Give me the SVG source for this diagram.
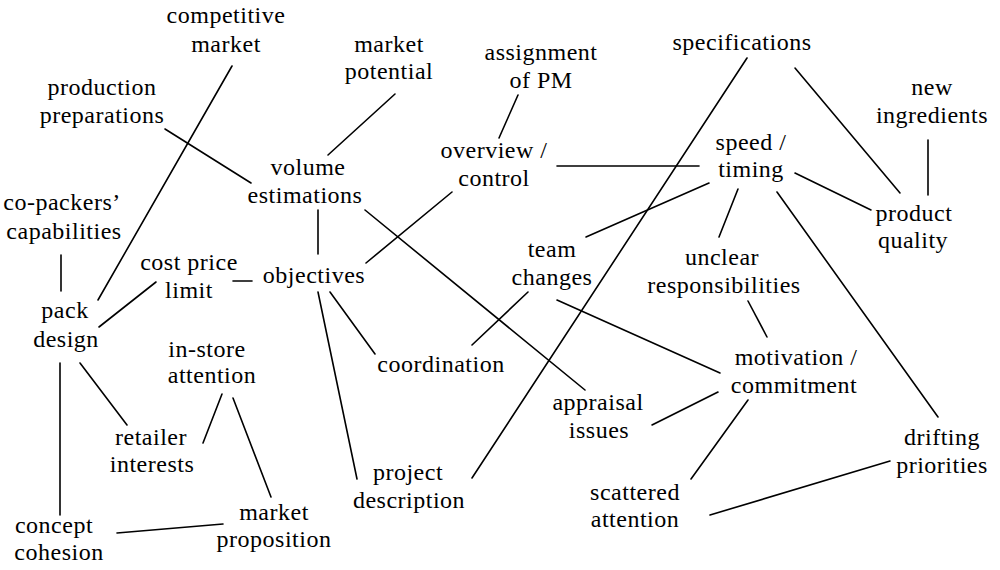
<svg xmlns="http://www.w3.org/2000/svg" width="1000" height="570" viewBox="0 0 1000 570">
<style>
.t text{font-size:24px;letter-spacing:0.5px;fill:#000;text-anchor:middle}
.c line{stroke:#000;stroke-width:1.6;stroke-linecap:round}
</style>
<rect width="1000" height="570" fill="#fff"/>
<g class="c" id="connectors">
<line x1="232" y1="66" x2="98" y2="300"/>
<line x1="165" y1="129" x2="251" y2="183"/>
<line x1="395" y1="94" x2="328" y2="155"/>
<line x1="518" y1="95" x2="499" y2="138"/>
<line x1="557" y1="166" x2="699" y2="166"/>
<line x1="452" y1="192" x2="366" y2="263"/>
<line x1="318" y1="210" x2="318" y2="254"/>
<line x1="365" y1="210" x2="585" y2="390"/>
<line x1="747" y1="58" x2="472" y2="478"/>
<line x1="795" y1="68" x2="900" y2="193"/>
<line x1="928" y1="140" x2="928" y2="195"/>
<line x1="795" y1="173" x2="871" y2="210"/>
<line x1="709" y1="183" x2="586" y2="237"/>
<line x1="738" y1="189" x2="719" y2="237"/>
<line x1="777" y1="192" x2="938" y2="417"/>
<line x1="528" y1="292" x2="472" y2="345"/>
<line x1="557" y1="300" x2="720" y2="373"/>
<line x1="748" y1="301" x2="767" y2="337"/>
<line x1="330" y1="292" x2="375" y2="354"/>
<line x1="318" y1="292" x2="357" y2="479"/>
<line x1="233" y1="281" x2="252" y2="281"/>
<line x1="61" y1="255" x2="61" y2="291"/>
<line x1="156" y1="282" x2="99" y2="327"/>
<line x1="80" y1="363" x2="127" y2="425"/>
<line x1="60" y1="363" x2="60" y2="515"/>
<line x1="222" y1="394" x2="203" y2="443"/>
<line x1="233" y1="398" x2="271" y2="497"/>
<line x1="117" y1="533" x2="223" y2="524"/>
<line x1="652" y1="425" x2="718" y2="392"/>
<line x1="748" y1="400" x2="691" y2="479"/>
<line x1="710" y1="515" x2="890" y2="461"/>
</g>
<g class="t" font-family="Liberation Serif, DejaVu Serif, serif">
<g id="competitive-market"><text x="226" y="23">competitive</text><text x="226" y="52">market</text></g>
<g id="production-preparations"><text x="102" y="95">production</text><text x="102" y="123">preparations</text></g>
<g id="market-potential"><text x="389" y="52">market</text><text x="389" y="79">potential</text></g>
<g id="assignment-of-pm"><text x="541" y="60">assignment</text><text x="541" y="88">of PM</text></g>
<g id="overview-control"><text x="494" y="158">overview /</text><text x="494" y="186">control</text></g>
<g id="specifications"><text x="742" y="50">specifications</text></g>
<g id="new-ingredients"><text x="932" y="95">new</text><text x="932" y="123">ingredients</text></g>
<g id="speed-timing"><text x="751" y="150">speed /</text><text x="751" y="177">timing</text></g>
<g id="volume-estimations"><text x="308" y="175">volume</text><text x="305" y="203">estimations</text></g>
<g id="co-packers-capabilities"><text x="62" y="210">co-packers’</text><text x="64" y="239">capabilities</text></g>
<g id="cost-price-limit"><text x="189" y="270">cost price</text><text x="189" y="298">limit</text></g>
<g id="objectives"><text x="314" y="283">objectives</text></g>
<g id="pack-design"><text x="65" y="318">pack</text><text x="66" y="347">design</text></g>
<g id="in-store-attention"><text x="207" y="357">in-store</text><text x="212" y="383">attention</text></g>
<g id="team-changes"><text x="552" y="257">team</text><text x="552" y="285">changes</text></g>
<g id="unclear-responsibilities"><text x="722" y="265">unclear</text><text x="724" y="293">responsibilities</text></g>
<g id="product-quality"><text x="914" y="221">product</text><text x="913" y="248">quality</text></g>
<g id="coordination"><text x="441" y="372">coordination</text></g>
<g id="motivation-commitment"><text x="796" y="365">motivation /</text><text x="794" y="393">commitment</text></g>
<g id="appraisal-issues"><text x="598" y="410">appraisal</text><text x="599" y="438">issues</text></g>
<g id="retailer-interests"><text x="151" y="445">retailer</text><text x="152" y="472">interests</text></g>
<g id="project-description"><text x="408" y="480">project</text><text x="409" y="508">description</text></g>
<g id="drifting-priorities"><text x="942" y="445">drifting</text><text x="942" y="473">priorities</text></g>
<g id="scattered-attention"><text x="635" y="500">scattered</text><text x="635" y="527">attention</text></g>
<g id="concept-cohesion"><text x="54" y="533">concept</text><text x="59" y="560">cohesion</text></g>
<g id="market-proposition"><text x="274" y="520">market</text><text x="274" y="547">proposition</text></g>
</g>
</svg>
